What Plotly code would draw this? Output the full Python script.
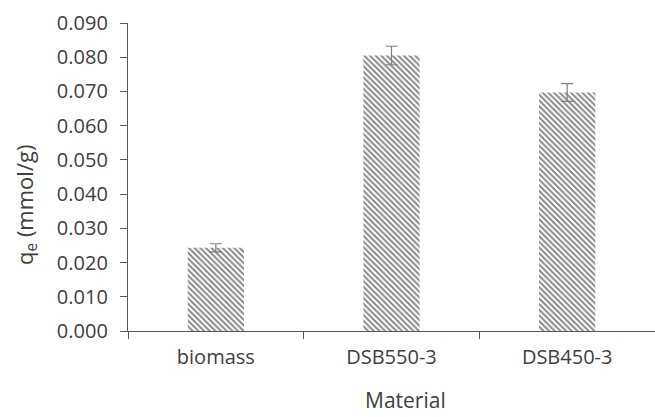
import plotly.graph_objects as go

categories = ["biomass", "DSB550-3", "DSB450-3"]
qe_values = [0.0243, 0.0805, 0.0697]
qe_errors = [0.0012, 0.0027, 0.0026]
y_ticks = [0.000, 0.010, 0.020, 0.030, 0.040, 0.050, 0.060, 0.070, 0.080, 0.090]

FONT = "Open Sans, Liberation Sans, sans-serif"
TXT = "#404040"

fig = go.Figure()
fig.add_trace(go.Bar(
    x=categories, y=qe_values,
    width=0.32,
    marker=dict(color="white", line=dict(width=0),
                pattern=dict(shape="\\", fgcolor="#111111", bgcolor="white",
                             size=4, solidity=0.5, fillmode="overlay")),
    error_y=dict(type="data", array=qe_errors, visible=True,
                 color="#7f7f7f", thickness=1.2, width=6),
))

axis_font = dict(family=FONT, size=20, color=TXT)
fig.update_layout(
    width=655, height=417,
    margin=dict(l=128, r=0, t=23, b=86),
    plot_bgcolor="white", paper_bgcolor="white",
    showlegend=False,
    xaxis=dict(
        range=[-0.5, 2.5], showline=True, linecolor="#595959", linewidth=1.3,
        ticks="outside", tickson="boundaries", ticklen=7, tickcolor="#595959",
        tickfont=axis_font, ticklabelstandoff=8,
    ),
    yaxis=dict(
        range=[0, 0.09], tickvals=y_ticks, ticktext=[f"{v:.3f}" for v in y_ticks],
        showline=True, linecolor="#595959", linewidth=1.3, showgrid=False, zeroline=False,
        ticks="outside", ticklen=7, tickcolor="#595959", tickfont=axis_font,
        ticklabelstandoff=8,
    ),
    annotations=[
        dict(text="Material", xref="paper", yref="paper", x=0.526, y=-0.225,
             xanchor="center", yanchor="middle", showarrow=False,
             font=dict(family=FONT, size=21, color=TXT)),
        dict(text="q<sub>e</sub> (mmol/g)", xref="paper", yref="paper", x=-0.195, y=0.41,
             xanchor="center", yanchor="middle", showarrow=False, textangle=-90,
             font=dict(family=FONT, size=22, color=TXT)),
    ],
)
fig.write_html("out.html", config={"displayModeBar": False},
               post_script="document.body.style.margin='0';document.body.style.overflow='hidden';")
